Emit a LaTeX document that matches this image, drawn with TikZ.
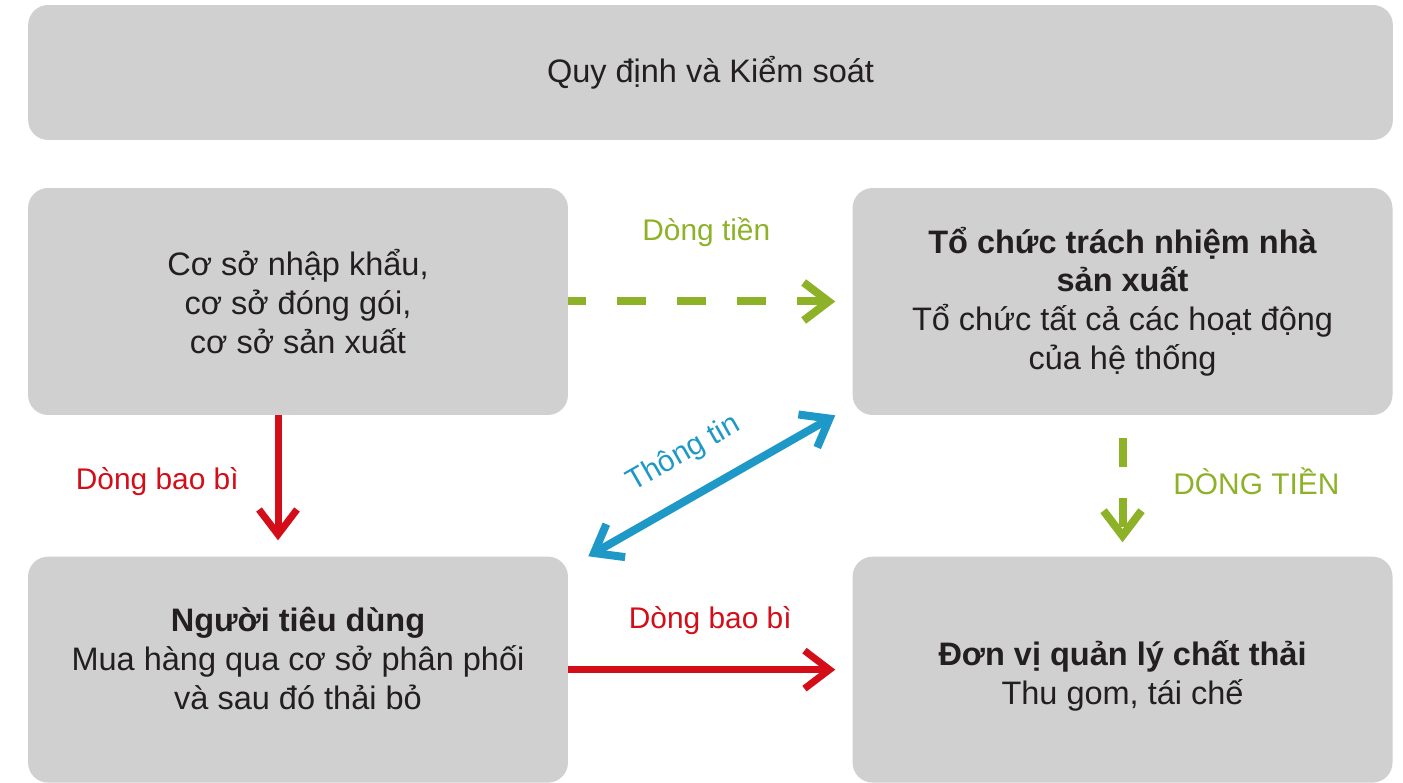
\documentclass[tikz,border=0pt]{standalone}
\usepackage{fontspec}
\setmainfont{Liberation Sans}
\usetikzlibrary{positioning, arrows.meta}

\definecolor{panelgray}{RGB}{208,208,208}
\definecolor{inkgray}{RGB}{35,31,32}
\definecolor{cashgreen}{RGB}{141,178,40}
\definecolor{packred}{RGB}{211,14,24}
\definecolor{infoblue}{RGB}{30,153,199}

\tikzset{
  panel/.style={fill=panelgray, rounded corners=0.4cm, minimum width=10.8cm, minimum height=4.54cm,
    align=center, text=inkgray, font=\fontsize{18.5}{22}\selectfont},
  paneltext/.style={align=center, text=inkgray, font=\fontsize{18.5}{22}\selectfont},
  flowlabel/.style={font=\fontsize{17}{20}\selectfont},
  flowtip/.tip={Straight Barb[length=0.5cm, width=0.76cm]},
  cashflow/.style={cashgreen, line width=0.16cm, dash pattern=on 0.58cm off 0.62cm, -{flowtip}},
  packflow/.style={packred, line width=0.14cm, -{flowtip}},
  infoflow/.style={infoblue, line width=0.16cm, {flowtip}-{flowtip}}
}

\begin{document}
\begin{tikzpicture}[x=0.02cm, y=-0.02cm]
    \useasboundingbox (0,0) rectangle (1403,783);
    \node (control) [panel, minimum width=27.3cm, minimum height=2.7cm] at (710.5,72.5) {\raisebox{-0.04cm}{Quy định và Kiểm soát}};
    \node (importers) [panel] at (298,301.5) {Cơ sở nhập khẩu,\\ cơ sở đóng gói,\\ cơ sở sản xuất};
    \node (epr) [panel, right=5.68cm of importers] {\textbf{Tổ chức trách nhiệm nhà}\\ \textbf{sản xuất}\\ Tổ chức tất cả các hoạt động\\ của hệ thống};
    \node (consumer) [panel, minimum height=4.52cm, below=2.82cm of importers] {};
    \node (waste) [panel, minimum height=4.52cm, below=2.82cm of epr] {};
    % Texts of the lower boxes
    \node (consumertext) [paneltext] at ([yshift=0.22cm]consumer.center) {\textbf{Người tiêu dùng}\\ Mua hàng qua cơ sở phân phối\\ và sau đó thải bỏ};
    \node (wastetext) [paneltext] at ([yshift=-0.13cm]waste.center) {\textbf{Đơn vị quản lý chất thải}\\ Thu gom, tái chế};
    % Money flows
    \draw [cashflow, dash phase=0.22cm, shorten >=0.34cm] (importers.east) -- (epr.west) node [midway, above=0.9cm, xshift=-0.08cm, flowlabel] {Dòng tiền};
    \draw [cashflow, shorten <=0.46cm, shorten >=0.28cm] (epr.south) -- (waste.north) node [midway, right=0.82cm, yshift=0.1cm, flowlabel] {DÒNG TIỀN};
    % Packaging flows
    \draw [packflow, shorten >=0.32cm] ([xshift=-0.4cm]importers.south) -- ([xshift=-0.4cm]consumer.north) node [midway, left=0.6cm, yshift=0.08cm, flowlabel] {Dòng bao bì};
    \draw [packflow, shorten >=0.34cm] (consumer.east) -- (waste.west) node [midway, above=0.52cm, flowlabel] {Dòng bao bì};
    % Information
    \draw [infoflow] ([xshift=0.4cm]consumer.north east) -- ([xshift=-0.34cm]epr.south west) node [pos=0.47, sloped, above=0.36cm, flowlabel] {Thông tin};
\end{tikzpicture}
\end{document}
